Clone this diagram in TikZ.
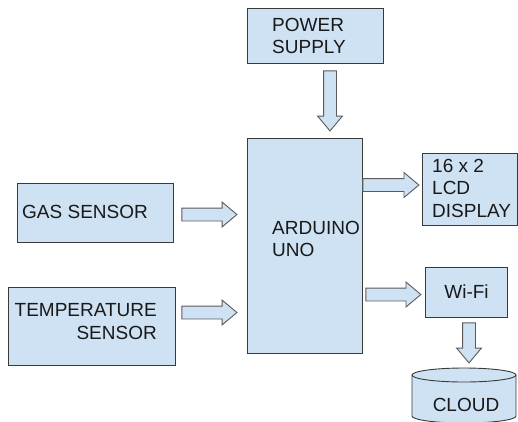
\documentclass[tikz,border=0pt]{standalone}
\usepackage{fontspec}
\setmainfont{Liberation Sans}
\usetikzlibrary{positioning,shapes.arrows}
\definecolor{boxfill}{HTML}{CFE2F3}
\definecolor{boxline}{HTML}{3A3A3A}
\definecolor{arrowline}{HTML}{5A5A5A}
\tikzset{
	block/.style={draw=boxline, fill=boxfill, line width=0.9pt, inner sep=0pt},
	txt/.style={font=\fontsize{19}{22.5}\selectfont, text=black!90, inner sep=0pt},
	fatarrow/.style={single arrow, draw=arrowline, fill=boxfill, line width=0.9pt, inner sep=6pt,
		single arrow head extend=6pt, single arrow tip angle=80, minimum height=56pt},
}
\begin{document}
\begin{tikzpicture}[x=1pt, y=-1pt]
	\useasboundingbox (0,0) rectangle (518,421);
	% blocks
	\node[block, minimum width=136pt, minimum height=55pt] (power) at (315,35.5) {};
	\node[block, minimum width=115pt, minimum height=215pt] (arduino) at (304.5,245.5) {};
	\node[block, minimum width=95pt, minimum height=72pt] (lcd) at (469.5,189) {};
	\node[block, minimum width=82pt, minimum height=50pt] (wifi) at (466,292) {};
	\node[block, minimum width=156pt, minimum height=59pt] (gas) at (95,212.5) {};
	\node[block, minimum width=167pt, minimum height=78pt] (temp) at (91.5,326) {};
	% cloud drum
	\coordinate (cloud) at (464,375);
	\filldraw[block] ([xshift=-52pt]cloud) -- ++(0,41)
		arc[start angle=180, end angle=360, x radius=52pt, y radius=7pt] -- ++(0,-41)
		arc[start angle=0, end angle=180, x radius=52pt, y radius=7pt] -- cycle;
	\draw[block, fill=none] ([xshift=-52pt]cloud)
		arc[start angle=180, end angle=360, x radius=52pt, y radius=7pt];
	% texts
	\node[txt, anchor=west, align=left] (powertext) at (272,36) {POWER\\SUPPLY};
	\node[txt, anchor=west, align=left] (arduinotext) at (272,239) {ARDUINO\\UNO};
	\node[txt, anchor=west, align=left] (lcdtext) at (432,188) {16 x 2\\LCD\\DISPLAY};
	\node[txt] (wifitext) at (466.5,292) {Wi-Fi};
	\node[txt, anchor=west] (gastext) at (22,212) {GAS SENSOR};
	\node[txt, anchor=east, align=right] (temptext) at (157,321.5) {TEMPERATURE\\SENSOR};
	\node[txt] (cloudtext) at (466,405) {CLOUD};
	% arrows
	\node[fatarrow, shape border rotate=270, minimum height=60pt,
		below=7pt of power, xshift=15pt] (powerarrow) {};
	\node[fatarrow, right=8pt of gas, yshift=-2pt, minimum height=55pt] (gasarrow) {};
	\node[fatarrow, right=6pt of temp, yshift=13.5pt, minimum height=55pt] (temparrow) {};
	\node[fatarrow, left=2pt of lcd, yshift=4pt] (lcdarrow) {};
	\node[fatarrow, left=3pt of wifi, yshift=-2.5pt, minimum height=55pt] (wifiarrow) {};
	\node[fatarrow, shape border rotate=270, minimum height=40pt,
		below=5pt of wifi, xshift=3pt] (cloudarrow) {};
\end{tikzpicture}
\end{document}
